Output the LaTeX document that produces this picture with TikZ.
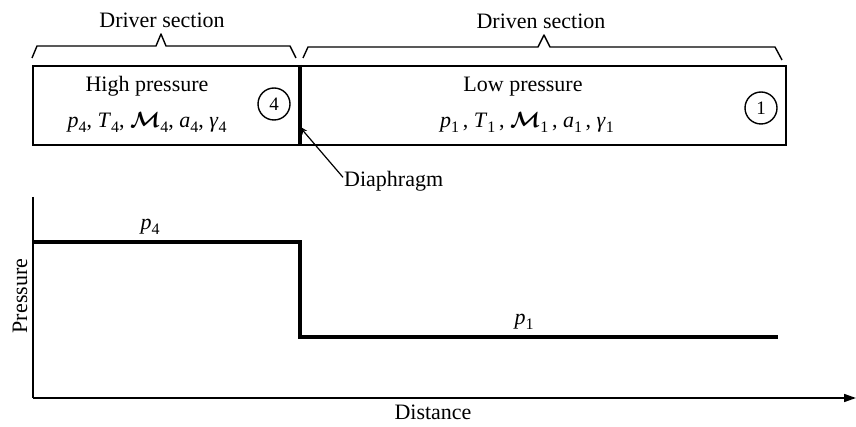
\RequirePackage{fix-cm}
\documentclass[tikz,border=0pt]{standalone}
\usepackage{fontspec}
\setmainfont{Liberation Serif}
\usetikzlibrary{arrows.meta}
\newcommand{\qv}[2]{\textit{#1}\raisebox{-5pt}{\fontsize{16}{16}\selectfont #2}}
\newcommand{\qm}[1]{{\boldmath$\mathcal{M}$}\raisebox{-5pt}{\fontsize{16}{16}\selectfont #1}}
\begin{document}
\begin{tikzpicture}[x=1pt,y=-1pt,
  txt/.style={font=\fontsize{22}{26}\selectfont, inner sep=1pt},
  tube/.style={draw, line width=2pt, inner sep=0pt, anchor=north west},
  brace/.style={line width=1.4pt, line join=round},
  station/.style={circle, draw, line width=1.4pt, minimum size=32pt, inner sep=0pt, font=\fontsize{19}{21}\selectfont},
  axis/.style={line width=1.6pt},
  curve/.style={line width=3.6pt}]
\useasboundingbox (0,0) rectangle (856,427);
% tube sections
\node[tube, minimum width=266pt, minimum height=79pt] (driver) at (32,65) {};
\node[tube, minimum width=487pt, minimum height=79pt] (driven) at (298,65) {};
\draw[line width=3pt] (driver.north east) -- (driver.south east);
% braces
\draw[brace] (32,58) -- (37,46) -- (156,46) -- (161,34) -- (166,46) -- (290,46) -- (296,58);
\draw[brace] (303,58) -- (308,47) -- (538,47) -- (544,35) -- (550,47) -- (775,47) -- (782,60);
\node[txt] (drvlab) at (162,20) {Driver section};
\node[txt] (dvnlab) at (541,21) {Driven section};
% contents
\node[txt] (hp) at (147,86) {High pressure};
\node[txt] (hpv) at (147,122) {\qv{p}{4}, \qv{T}{4}, \qm{4}, \qv{a}{4}, \qv{γ}{4}};
\node[station] (c4) at (274,104) {4};
\node[txt] (lp) at (523,87) {Low pressure};
\node[txt] (lpv) at (527,122) {\qv{p}{1}\,, \qv{T}{1}\,, \qm{1}\,, \qv{a}{1}\,, \qv{γ}{1}};
\node[station] (c1) at (761,108) {1};
% diaphragm
\node[txt, anchor=base west] (diaph) at (343,187) {Diaphragm};
\coordinate (dtip) at (299,126);
\draw[line width=1.2pt, -{Stealth[length=9pt,width=6pt]}] (diaph.175) -- (dtip);
% plot
\coordinate (O) at (33,398);
\coordinate (ytop) at (33,197);
\coordinate (xend) at (856,398);
\draw[axis] (ytop) -- (O);
\draw[axis, -{Triangle[length=12pt,width=8pt]}] (O) -- (xend);
\coordinate (a) at (33,242);
\coordinate (b) at (300,242);
\coordinate (c) at (300,337);
\coordinate (d) at (778,337);
\draw[curve] (a) -- (b) -- (c) -- (d);
\node[txt] (p4) at (150,227) {\qv{p}{4}};
\node[txt] (p1) at (524,322) {\qv{p}{1}};
\node[txt, rotate=90] (plab) at (20,296) {Pressure};
\node[txt] (dlab) at (433,412) {Distance};
\end{tikzpicture}
\end{document}
